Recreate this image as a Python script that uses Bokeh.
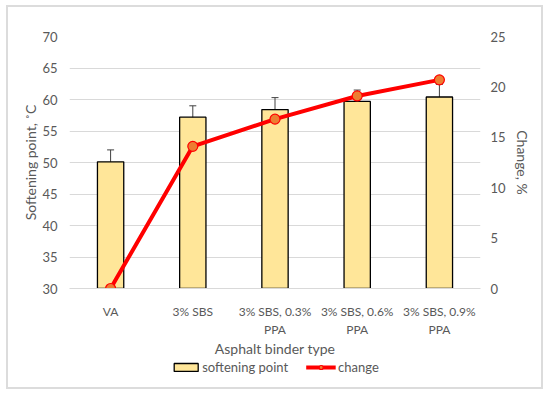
from bokeh.plotting import figure
from bokeh.layouts import column
from bokeh.models import (ColumnDataSource, Range1d, LinearAxis, Whisker, Legend, LegendItem,
                          FactorRange, SingleIntervalTicker)
from bokeh.embed import file_html
from bokeh.resources import INLINE

categories = ["VA", "3% SBS", "3% SBS, 0.3%\nPPA", "3% SBS, 0.6%\nPPA", "3% SBS, 0.9%\nPPA"]
softening = [50.1, 57.2, 58.4, 59.7, 60.4]
error = [1.9, 1.8, 1.9, 1.8, 2.0]
change = [0.0, 14.1, 16.8, 19.1, 20.7]

src = ColumnDataSource(dict(
    x=categories, top=softening,
    upper=[s + e for s, e in zip(softening, error)],
    lower=[s - e for s, e in zip(softening, error)],
    change=change,
))

FONT = "Lato"
GRAY = "#595959"
BAR_FILL = "#FFE699"
LINE_RED = "#FF0000"
MARK_FILL = "#ED7D31"

p = figure(width=533, height=352, x_range=FactorRange(*categories), y_range=Range1d(30, 70),
           output_backend="svg", toolbar_location=None,
           min_border_left=61, min_border_right=61, min_border_top=29, min_border_bottom=71)
p.extra_y_ranges = {"chg": Range1d(0, 25)}
p.outline_line_color = None

bars = p.vbar(x="x", top="top", bottom=30, width=0.32, source=src,
              fill_color=BAR_FILL, line_color="#000000", line_width=1.3)
wh = Whisker(source=src, base="x", upper="upper", lower="lower", line_color="#404040", line_width=1)
wh.upper_head.size = 7
wh.lower_head.size = 7
wh.upper_head.line_color = "#404040"
wh.lower_head.line_color = "#404040"
p.add_layout(wh)

ln = p.line(x="x", y="change", source=src, y_range_name="chg", line_color=LINE_RED, line_width=4)
pts = p.scatter(x="x", y="change", source=src, y_range_name="chg", size=10,
                fill_color=MARK_FILL, line_color=LINE_RED, line_width=1.2)

# axes
p.yaxis.ticker = SingleIntervalTicker(interval=5)
p.yaxis.axis_label = "Softening point, ˚C"
ra = LinearAxis(y_range_name="chg", ticker=SingleIntervalTicker(interval=5), axis_label="Change, %")
p.add_layout(ra, "right")
p.xaxis.axis_label = "Asphalt binder type"

for ax, so, lso in [(p.yaxis[0], 12, 0), (ra, 10, 5)]:
    ax.axis_line_color = None
    ax.major_tick_line_color = None
    ax.minor_tick_line_color = None
    ax.major_tick_out = 0
    ax.minor_tick_out = 0
    ax.major_label_text_font = FONT
    ax.major_label_text_font_size = "13px"
    ax.major_label_text_color = GRAY
    ax.major_label_standoff = so
    ax.axis_label_text_font = FONT
    ax.axis_label_text_font_size = "14px"
    ax.axis_label_text_font_style = "normal"
    ax.axis_label_text_color = GRAY
    ax.axis_label_standoff = lso

xa = p.xaxis[0]
xa.axis_line_color = "#d9d9d9"
xa.major_tick_line_color = None
xa.minor_tick_line_color = None
xa.major_tick_out = 0
xa.major_label_text_font = FONT
xa.major_label_text_font_size = "12px"
xa.major_label_text_color = GRAY
xa.major_label_standoff = 15
xa.axis_label_text_font = FONT
xa.axis_label_text_font_size = "14px"
xa.axis_label_text_font_style = "normal"
xa.axis_label_text_color = GRAY
xa.axis_label_standoff = 0

p.xgrid.grid_line_color = None
p.ygrid.grid_line_color = "#d9d9d9"
p.ygrid.grid_line_width = 1

# legend strip
lg = figure(width=533, height=28, x_range=Range1d(0, 1), y_range=Range1d(0, 1),
            x_axis_type=None, y_axis_type=None, output_backend="svg", toolbar_location=None,
            min_border=0)
lg.outline_line_color = None
lg.grid.grid_line_color = None
dsrc = ColumnDataSource(dict(x=[float("nan")], y=[float("nan")]))
d_bar = lg.vbar(x="x", top="y", width=0.3, source=dsrc, fill_color=BAR_FILL, line_color="#000000", line_width=1.3)
d_ln = lg.line(x="x", y="y", source=dsrc, line_color=LINE_RED, line_width=4)
d_pt = lg.scatter(x="x", y="y", source=dsrc, size=10, fill_color=MARK_FILL, line_color=LINE_RED, line_width=1.2)
legend = Legend(items=[LegendItem(label="softening point", renderers=[d_bar]),
                       LegendItem(label="change", renderers=[d_ln, d_pt])],
                orientation="horizontal", location="top_center",
                border_line_color=None, background_fill_alpha=0,
                label_text_font=FONT, label_text_font_size="13px", label_text_color=GRAY,
                glyph_width=30, glyph_height=10, spacing=18, padding=0, margin=0,
                label_standoff=2)
lg.add_layout(legend, "center")

layout = column(p, lg, spacing=0, margin=(5, 0, 0, 6),
                styles={"border": "2px solid #dcdcdc"})

open("out.html", "w").write(file_html(layout, INLINE))
